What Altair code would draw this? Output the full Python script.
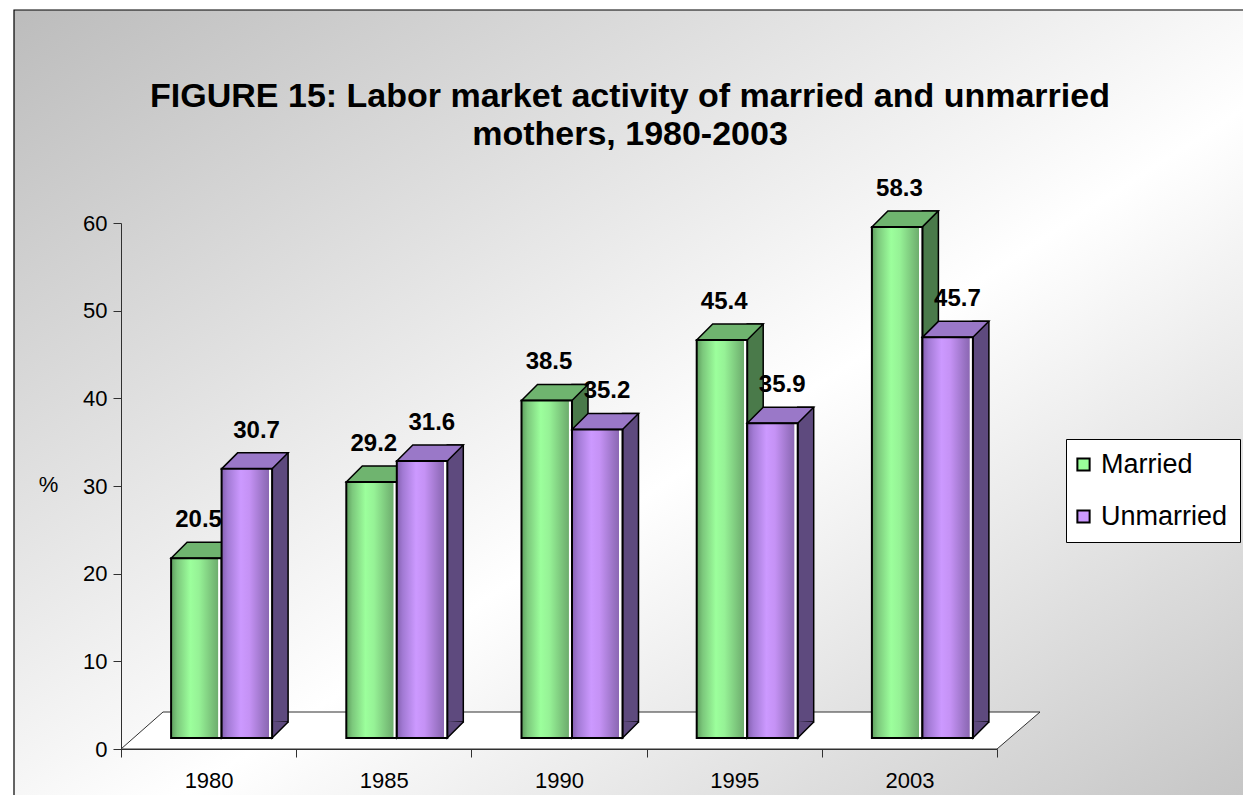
import altair as alt
import pandas as pd

years = ["1980", "1985", "1990", "1995", "2003"]
married = [20.5, 29.2, 38.5, 45.4, 58.3]
unmarried = [30.7, 31.6, 35.2, 35.9, 45.7]
series_names = ["Married", "Unmarried"]
title_lines = ["FIGURE 15: Labor market activity of married and unmarried",
               "mothers, 1980-2003"]
y_ticks = [0, 10, 20, 30, 40, 50, 60]

rows = []
for s, vals in zip(series_names, [married, unmarried]):
    for yr, v in zip(years, vals):
        rows.append({"year": yr, "series": s, "value": v})
df = pd.DataFrame(rows)

W, H = 876, 526
FONT = "Liberation Sans"
BAR_W = 50.5
DEPTH = 16
LIFT = 11  # front faces sit slightly above the axis line (3-D floor)

x_enc = alt.X("year:N", sort=years,
              scale=alt.Scale(paddingInner=0, paddingOuter=0),
              axis=alt.Axis(title=None, tickBand="extent", labelAngle=0,
                            tickSize=8, labelPadding=13, labelFontSize=22,
                            labelFont=FONT, labelColor="black",
                            domainColor="#303030", tickColor="#303030",
                            zindex=2))
y_enc = alt.Y("value:Q",
              scale=alt.Scale(domain=[0, 60], nice=False, zero=True),
              axis=alt.Axis(values=y_ticks, grid=False, tickSize=8,
                            labelPadding=6, labelFontSize=22, labelFont=FONT,
                            labelColor="black", domainColor="#303030",
                            tickColor="#303030", title="%", titleAngle=0,
                            titleX=-73, titleY=261, titleAlign="center",
                            titleBaseline="middle", titleFontSize=22,
                            titleFontWeight="normal", titleFont=FONT,
                            titleColor="black", zindex=2))


def grad(stops):
    return alt.LinearGradient(
        gradient="linear", x1=0, y1=0, x2=1, y2=0,
        stops=[alt.GradientStop(color=c, offset=o) for o, c in stops])


styles = {
    "Married": dict(
        front=grad([(0, "#5e9e5e"), (0.12, "#7cc87c"), (0.38, "#9cff9c"),
                    (0.55, "#96f296"), (0.85, "#76bb76"), (0.93, "#6eae6e"),
                    (0.94, "#ffffff"), (1, "#ffffff")]),
        top="#6fb46f", side="#4a7a4a", center=13 - BAR_W / 2, ldx=-10),
    "Unmarried": dict(
        front=grad([(0, "#8460b0"), (0.12, "#a27ad4"), (0.38, "#cc99ff"),
                    (0.55, "#c592f5"), (0.85, "#9670c0"), (0.93, "#8c68b4"),
                    (0.94, "#ffffff"), (1, "#ffffff")]),
        top="#9a78c8", side="#5e4a7e", center=13 + BAR_W / 2, ldx=48),
}

one = alt.Data(values=[{"k": 1}])

background = alt.Chart(one).mark_rect(
    fill=alt.LinearGradient(
        gradient="linear", x1=0, y1=0, x2=1, y2=1,
        stops=[alt.GradientStop(color="#bcbcbc", offset=0),
               alt.GradientStop(color="#ffffff", offset=0.55),
               alt.GradientStop(color="#c2c2c2", offset=1)]),
    stroke="black", strokeWidth=1.2,
).encode(x=alt.value(-107), x2=alt.value(1150),
         y=alt.value(-213), y2=alt.value(600))

floor_path = f"M 0 0 L {W} 0 L {W + 43} -37 L 42 -37 Z"
floor = alt.Chart(one).mark_point(
    shape=floor_path, size=4, filled=True, fill="white", opacity=1,
    stroke="#303030", strokeWidth=1,
).encode(x=alt.value(0), y=alt.value(H))

layers = [background, floor]
for s in series_names:
    st = styles[s]
    c = st["center"]
    xl, xr = c - BAR_W / 2, c + BAR_W / 2
    base = alt.Chart(df).transform_filter(alt.datum.series == s)
    side = base.mark_bar(
        width=DEPTH, xOffset=xr + DEPTH / 2,
        yOffset=-(LIFT + DEPTH), y2Offset=-(LIFT + DEPTH),
        fill=st["side"], stroke="black", strokeWidth=1.5,
    ).encode(x=x_enc, y=y_enc)
    tri_path = f"M {xr + DEPTH} {-(LIFT + DEPTH)} L {xr} {-LIFT} L {xr} {-(LIFT + DEPTH) - 1}"
    tri = base.mark_point(
        shape=tri_path, size=4, filled=True, fill=st["side"], opacity=1,
        stroke="black", strokeWidth=1.5,
    ).encode(x=x_enc, y=alt.Y(datum=0))
    top_path = (f"M {xl} {-LIFT} L {xr} {-LIFT} L {xr + DEPTH} {-(LIFT + DEPTH)} "
                f"L {xl + DEPTH} {-(LIFT + DEPTH)} Z")
    top = base.mark_point(
        shape=top_path, size=4, filled=True, fill=st["top"], opacity=1,
        stroke="black", strokeWidth=1.5,
    ).encode(x=x_enc, y=y_enc)
    front = base.mark_bar(
        width=BAR_W, xOffset=c, yOffset=-LIFT, y2Offset=-LIFT,
        fill=st["front"], stroke="black", strokeWidth=2,
    ).encode(x=x_enc, y=y_enc)
    layers += [side, tri, top, front]

legend_layer = alt.Chart(df).mark_square(opacity=0).encode(
    x=x_enc, y=y_enc,
    color=alt.Color("series:N",
                    scale=alt.Scale(domain=series_names,
                                    range=["#99ff99", "#cc99ff"]),
                    legend=alt.Legend(
                        title=None, orient="none", legendX=945, legendY=216,
                        fillColor="white", strokeColor="black", padding=12,
                        symbolType="square", symbolSize=150, symbolOffset=-8,
                        symbolStrokeColor="black", symbolStrokeWidth=2,
                        symbolOpacity=1, labelFontSize=27, labelFont=FONT,
                        labelColor="black", labelOffset=4, rowPadding=24,
                        cornerRadius=0)))
layers.append(legend_layer)

for s in series_names:
    st = styles[s]
    lab = alt.Chart(df).transform_filter(alt.datum.series == s).mark_text(
        fontSize=24, fontWeight="bold", font=FONT, color="black",
        align="center", baseline="alphabetic", dx=st["ldx"], dy=-(LIFT + 31),
    ).encode(x=x_enc, y=y_enc, text=alt.Text("value:Q", format=".1f"))
    layers.append(lab)

for i, line in enumerate(title_lines):
    t = alt.Chart(one).mark_text(
        fontSize=34, fontWeight="bold", font=FONT, color="black",
        align="center", baseline="alphabetic",
    ).encode(x=alt.value(509), y=alt.value(-116 + 38 * i), text=alt.value(line))
    layers.append(t)

chart = alt.layer(*layers).properties(
    width=W, height=H,
    autosize=alt.AutoSizeParams(type="none"),
    padding={"left": 113, "top": 215, "right": 246, "bottom": 46},
).configure_view(stroke=None)

chart.save("out.html", embed_options={"renderer": "svg", "actions": False})
